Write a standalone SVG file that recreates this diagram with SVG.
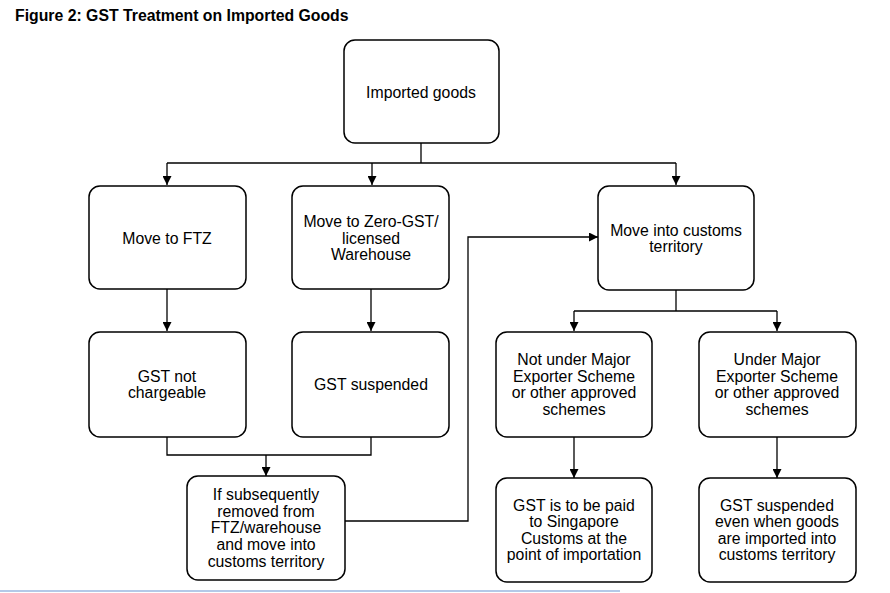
<svg xmlns="http://www.w3.org/2000/svg" width="890" height="593" viewBox="0 0 890 593">
<style>
.box{fill:#fff;stroke:#000;stroke-width:1.5}
.t{font-family:"Liberation Sans",Arial,sans-serif;font-size:15.8px;fill:#000;text-anchor:middle;dominant-baseline:central}
.c{fill:none;stroke:#000;stroke-width:1.3}
</style>
<defs>
<marker id="ah" viewBox="0 0 10 10" refX="10" refY="5" markerWidth="9" markerHeight="9" markerUnits="userSpaceOnUse" orient="auto">
<path d="M0,0 L10,5 L0,10 z" fill="#000"/>
</marker>
</defs>
<rect width="890" height="593" fill="#fff"/>
<text x="15" y="21" font-family="Liberation Sans,Arial,sans-serif" font-size="15.8" font-weight="bold">Figure 2: GST Treatment on Imported Goods</text>
<line x1="0" y1="591" x2="620" y2="591" stroke="#9bb7e0" stroke-width="1.5"/>
<g id="connectors">
<path class="c" d="M421,143 V163"/>
<path class="c" d="M167,163 H676"/>
<path class="c" d="M167,163 V185" marker-end="url(#ah)"/>
<path class="c" d="M372,163 V185" marker-end="url(#ah)"/>
<path class="c" d="M676,163 V185" marker-end="url(#ah)"/>
<path class="c" d="M167,289 V331" marker-end="url(#ah)"/>
<path class="c" d="M371,289 V331" marker-end="url(#ah)"/>
<path class="c" d="M167,437 V455 H371 V437"/>
<path class="c" d="M266,455 V476" marker-end="url(#ah)"/>
<path class="c" d="M345,521 H468 V237 H598" marker-end="url(#ah)"/>
<path class="c" d="M676,290 V311"/>
<path class="c" d="M574,311 H777"/>
<path class="c" d="M574,311 V331" marker-end="url(#ah)"/>
<path class="c" d="M777,311 V331" marker-end="url(#ah)"/>
<path class="c" d="M574,437 V478" marker-end="url(#ah)"/>
<path class="c" d="M777,437 V478" marker-end="url(#ah)"/>
</g>
<g id="imported">
<rect class="box" x="344" y="40" width="155" height="103" rx="11"/>
<text class="t" x="421" y="92">Imported goods</text>
</g>
<g id="ftz">
<rect class="box" x="89" y="186" width="157" height="103" rx="11"/>
<text class="t" x="167" y="238">Move to FTZ</text>
</g>
<g id="zerogst">
<rect class="box" x="292" y="186" width="157" height="103" rx="11"/>
<text class="t" x="371" y="221">Move to Zero-GST/</text>
<text class="t" x="371" y="238">licensed</text>
<text class="t" x="371" y="254">Warehouse</text>
</g>
<g id="customs">
<rect class="box" x="598" y="186" width="156" height="104" rx="11"/>
<text class="t" x="676" y="230">Move into customs</text>
<text class="t" x="676" y="246">territory</text>
</g>
<g id="notchargeable">
<rect class="box" x="89" y="332" width="157" height="105" rx="11"/>
<text class="t" x="167" y="376">GST not</text>
<text class="t" x="167" y="392">chargeable</text>
</g>
<g id="suspended">
<rect class="box" x="292" y="332" width="157" height="105" rx="11"/>
<text class="t" x="371" y="384">GST suspended</text>
</g>
<g id="notunder">
<rect class="box" x="496" y="332" width="156" height="105" rx="11"/>
<text class="t" x="574" y="359">Not under Major</text>
<text class="t" x="574" y="376">Exporter Scheme</text>
<text class="t" x="574" y="392">or other approved</text>
<text class="t" x="574" y="409">schemes</text>
</g>
<g id="under">
<rect class="box" x="699" y="332" width="157" height="105" rx="11"/>
<text class="t" x="777" y="359">Under Major</text>
<text class="t" x="777" y="376">Exporter Scheme</text>
<text class="t" x="777" y="392">or other approved</text>
<text class="t" x="777" y="409">schemes</text>
</g>
<g id="removed">
<rect class="box" x="187" y="476" width="158" height="104" rx="11"/>
<text class="t" x="266" y="494">If subsequently</text>
<text class="t" x="266" y="511">removed from</text>
<text class="t" x="266" y="527">FTZ/warehouse</text>
<text class="t" x="266" y="544">and move into</text>
<text class="t" x="266" y="561">customs territory</text>
</g>
<g id="paid">
<rect class="box" x="496" y="478" width="156" height="104" rx="11"/>
<text class="t" x="574" y="505">GST is to be paid</text>
<text class="t" x="574" y="521">to Singapore</text>
<text class="t" x="574" y="538">Customs at the</text>
<text class="t" x="574" y="554">point of importation</text>
</g>
<g id="suspendedeven">
<rect class="box" x="699" y="478" width="157" height="104" rx="11"/>
<text class="t" x="777" y="505">GST suspended</text>
<text class="t" x="777" y="521">even when goods</text>
<text class="t" x="777" y="538">are imported into</text>
<text class="t" x="777" y="554">customs territory</text>
</g>
</svg>
